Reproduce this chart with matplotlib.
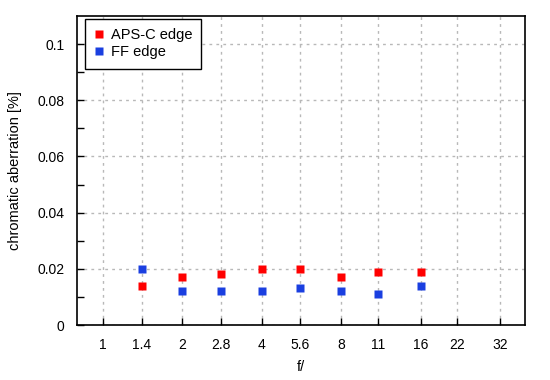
import matplotlib
matplotlib.use("Agg")
import matplotlib.pyplot as plt
from matplotlib.ticker import FixedLocator, NullFormatter, NullLocator

fstops = [1, 1.4, 2, 2.8, 4, 5.6, 8, 11, 16, 22, 32]
fstop_labels = ["1", "1.4", "2", "2.8", "4", "5.6", "8", "11", "16", "22", "32"]
data_f = [1.4, 2, 2.8, 4, 5.6, 8, 11, 16]
apsc_edge = [0.014, 0.017, 0.018, 0.020, 0.020, 0.017, 0.019, 0.019]
ff_edge = [0.020, 0.012, 0.012, 0.012, 0.013, 0.012, 0.011, 0.014]

plt.rcParams['font.family'] = ['Liberation Sans', 'DejaVu Sans']
fig = plt.figure(figsize=(5.5, 3.8), dpi=100)
ax = fig.add_axes([0.14, 0.1447, 0.8145, 0.8133])

ax.plot(data_f, apsc_edge, ls='none', marker='s', ms=6, color='#ff0000',
        mec='none', label='APS-C edge', zorder=3)
ax.plot(data_f, ff_edge, ls='none', marker='s', ms=6, color='#1a3fe0',
        mec='none', label='FF edge', zorder=3)

ax.set_xscale('log')
ax.set_xlim(0.797, 39.8)
ax.set_ylim(0, 0.11)
ax.xaxis.set_major_locator(FixedLocator(fstops))
ax.set_xticklabels(fstop_labels)
ax.xaxis.set_minor_locator(NullLocator())
ax.xaxis.set_minor_formatter(NullFormatter())
ax.set_yticks([0, 0.02, 0.04, 0.06, 0.08, 0.1])
ax.set_yticklabels(["0", "0.02", "0.04", "0.06", "0.08", "0.1"])
ax.yaxis.set_minor_locator(FixedLocator([0.01, 0.03, 0.05, 0.07, 0.09]))

ax.tick_params(axis='both', which='major', direction='in', length=5, width=1,
               labelsize=10, pad=9, top=False, right=False)
ax.tick_params(axis='y', which='minor', direction='in', length=5, width=1,
               right=False)
ax.grid(True, which='major', color='#b8b8b8', ls=(0, (2, 3)), lw=1)
for s in ax.spines.values():
    s.set_linewidth(1.2)

ax.set_xlabel('f/', fontsize=10.5, labelpad=6)
ax.set_ylabel('chromatic aberration [%]', fontsize=10.5, labelpad=11)

leg = ax.legend(loc='upper left', bbox_to_anchor=(8 / 448, 1 - 3 / 309),
                borderaxespad=0, fontsize=10.5, frameon=True, fancybox=False,
                edgecolor='black', framealpha=1, handlelength=0.65,
                handletextpad=0.45, borderpad=0.65, labelspacing=0.2)
leg.get_frame().set_linewidth(1)

fig.savefig('out.png', dpi=100)
